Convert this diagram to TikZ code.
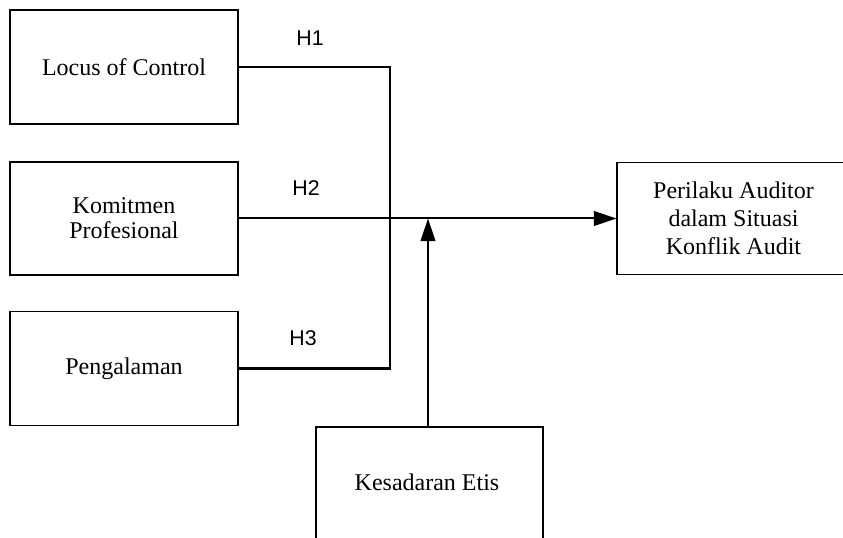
\documentclass[tikz,border=0pt]{standalone}
\usepackage{fontspec}
\setmainfont{Liberation Serif}
\newfontfamily\hfont{Liberation Sans}
\usetikzlibrary{arrows.meta}
\begin{document}
\begin{tikzpicture}[x=0.75pt,y=-0.75pt,
  varbox/.style={draw=black, line width=0.8pt, rectangle, align=center,
    inner sep=0pt, font=\fontsize{18}{20}\selectfont},
  conn/.style={draw=black, line width=1.9pt},
  arr/.style={draw=black, line width=1.5pt, -{Triangle[length=17pt,width=11pt]}},
  hlab/.style={font=\hfont\fontsize{16}{18}\selectfont, inner sep=0pt}]
\useasboundingbox (0,0) rectangle (843,538);
\clip (0,0) rectangle (843,538);
\node[varbox, minimum width=228*0.75pt, minimum height=114*0.75pt] (loc) at (124,67) {Locus of Control};
\node[varbox, minimum width=228*0.75pt, minimum height=113*0.75pt,
  font=\fontsize{18}{19}\selectfont] (kom) at (124,218.5) {Komitmen\\Profesional};
\node[varbox, minimum width=228*0.75pt, minimum height=114*0.75pt] (pen) at (124,368.5) {Pengalaman};
\node[varbox, minimum width=233*0.75pt, minimum height=112*0.75pt,
  font=\fontsize{18}{21}\selectfont] (per) at (733.5,218.5) {Perilaku Auditor\\dalam Situasi\\Konflik Audit};
\node[varbox, minimum width=227*0.75pt, minimum height=130*0.75pt] (kes) at (429.5,492) {};
\node[font=\fontsize{18}{20}\selectfont, inner sep=0pt] (kest) at (427,482) {Kesadaran Etis};
\coordinate (j1) at (390,67);
\coordinate (j3) at (390,368.5);
\coordinate (m) at (428,218.5);
\draw[conn] (loc.east) -- (j1) -- (j3) -- (pen.east);
\draw[arr] (kom.east) -- (per.west);
\draw[arr] (m |- kes.north) -- (m);
\node[hlab] (h1) at (310,38) {H1};
\node[hlab] (h2) at (306,188) {H2};
\node[hlab] (h3) at (303,338) {H3};
\end{tikzpicture}
\end{document}
